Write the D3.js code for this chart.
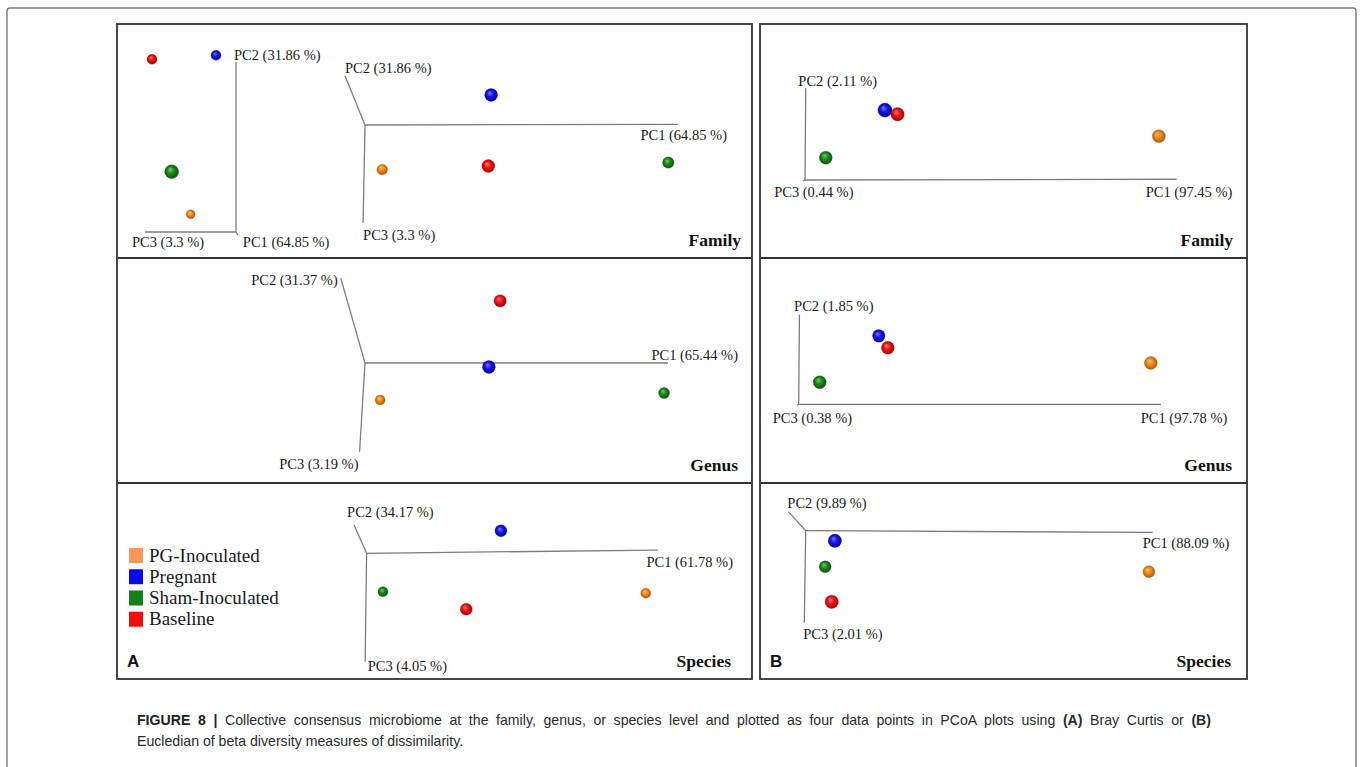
<!DOCTYPE html>
<html>
<head>
<meta charset="utf-8">
<script src="https://cdn.jsdelivr.net/npm/d3@7"></script>
<style>
  html, body { margin: 0; padding: 0; background: #fff; }
  svg { display: block; }
</style>
</head>
<body>
<svg id="fig" width="1360" height="767"></svg>
<script>
// ---- data -------------------------------------------------------------
const groups = ["PG-Inoculated", "Pregnant", "Sham-Inoculated", "Baseline"];
const levels = ["Family", "Genus", "Species"];

// Axis titles (PC1, PC2, PC3) per ordination
const braysFamilyAxes  = ["PC1 (64.85 %)", "PC2 (31.86 %)", "PC3 (3.3 %)"];
const braysGenusAxes   = ["PC1 (65.44 %)", "PC2 (31.37 %)", "PC3 (3.19 %)"];
const braysSpeciesAxes = ["PC1 (61.78 %)", "PC2 (34.17 %)", "PC3 (4.05 %)"];
const euclFamilyAxes   = ["PC1 (97.45 %)", "PC2 (2.11 %)", "PC3 (0.44 %)"];
const euclGenusAxes    = ["PC1 (97.78 %)", "PC2 (1.85 %)", "PC3 (0.38 %)"];
const euclSpeciesAxes  = ["PC1 (88.09 %)", "PC2 (9.89 %)", "PC3 (2.01 %)"];

// Projected axis tips [x, y] for PC1, PC2, PC3 (units of view length)
const braysFamilySideTips  = [[0.020, -0.033], [0.000, 1.868], [-1.000, 0.000]];
const braysFamilyFrontTips = [[1.000, 0.002], [-0.064, 0.157], [-0.006, -0.313]];
const braysGenusTips       = [[1.000, 0.000], [-0.080, 0.280], [-0.018, -0.293]];
const braysSpeciesTips     = [[1.000, 0.011], [-0.043, 0.097], [-0.005, -0.372]];
const euclFamilyTips       = [[1.000, 0.002], [0.002, 0.247], [-0.005, -0.003]];
const euclGenusTips        = [[1.000, 0.000], [0.002, 0.248], [-0.005, -0.003]];
const euclSpeciesTips      = [[1.000, -0.005], [-0.050, 0.055], [-0.004, -0.265]];

// Projected sample coordinates [x, y, depth] in group order
const braysFamilySide  = [[-0.498, 0.195, 0.14], [-0.220, 1.942, 0.29], [-0.707, 0.663, 0.86], [-0.923, 1.898, 0.29]];
const braysFamilyFront = [[0.055, -0.142, 0.37], [0.403, 0.096, 0.71], [0.969, -0.120, 0.49], [0.394, -0.131, 0.71]];
const braysGenus       = [[0.050, -0.122, 0.29], [0.409, -0.013, 0.71], [0.987, -0.099, 0.43], [0.446, 0.205, 0.62]];
const braysSpecies     = [[0.958, -0.137, 0.29], [0.461, 0.077, 0.57], [0.056, -0.132, 0.29], [0.342, -0.192, 0.57]];
const euclFamily       = [[0.952, 0.118, 0.71], [0.215, 0.188, 0.86], [0.056, 0.060, 0.71], [0.249, 0.177, 0.77]];
const euclGenus        = [[0.972, 0.114, 0.71], [0.221, 0.189, 0.66], [0.058, 0.061, 0.71], [0.246, 0.156, 0.71]];
const euclSpecies      = [[0.989, -0.118, 0.57], [0.084, -0.029, 0.77], [0.056, -0.104, 0.57], [0.075, -0.205, 0.77]];

// ---- styling ----------------------------------------------------------
const sphereColors = [
  { base: "#f08a1c", light: "#ffc77a", dark: "#a85200" },
  { base: "#1616ee", light: "#7a7aff", dark: "#00008c" },
  { base: "#1c8a1c", light: "#6fd06f", dark: "#064d06" },
  { base: "#ee1414", light: "#ff8080", dark: "#9a0000" }
];
const legendColors = ["#f7995a", "#0a0af2", "#15801a", "#f20d0d"];
const serif = "'Liberation Serif', 'Times New Roman', serif";
const sans = "'Liberation Sans', Arial, sans-serif";
const radius = d3.scaleLinear().domain([0, 1]).range([4, 7.5]);

const svg = d3.select("#fig");
const defs = svg.append("defs");
sphereColors.forEach((c, i) => {
  const g = defs.append("radialGradient")
    .attr("id", "ball" + i)
    .attr("cx", "50%").attr("cy", "50%").attr("r", "55%")
    .attr("fx", "38%").attr("fy", "32%");
  g.append("stop").attr("offset", "0%").attr("stop-color", c.light);
  g.append("stop").attr("offset", "45%").attr("stop-color", c.base);
  g.append("stop").attr("offset", "100%").attr("stop-color", c.dark);
});

// ---- frames -----------------------------------------------------------
svg.append("rect")
  .attr("x", 7).attr("y", 8).attr("width", 1349).attr("height", 800)
  .attr("rx", 3)
  .attr("fill", "none").attr("stroke", "#7a7a7a").attr("stroke-width", 1.4);

const panels = [
  { x: 117, w: 635, letter: "A", titleInset: [11, 14, 21] },
  { x: 760, w: 487, letter: "B", titleInset: [14, 15, 16] }
];
const rowEdges = [24, 258, 483, 679];

panels.forEach(p => {
  svg.append("rect")
    .attr("x", p.x).attr("y", rowEdges[0])
    .attr("width", p.w).attr("height", rowEdges[3] - rowEdges[0])
    .attr("fill", "none").attr("stroke", "#333").attr("stroke-width", 1.8);
  [rowEdges[1], rowEdges[2]].forEach(y => {
    svg.append("line")
      .attr("x1", p.x).attr("x2", p.x + p.w)
      .attr("y1", y).attr("y2", y)
      .attr("stroke", "#333").attr("stroke-width", 1.8);
  });
  levels.forEach((lv, i) => {
    svg.append("text")
      .attr("x", p.x + p.w - p.titleInset[i])
      .attr("y", rowEdges[i + 1] - 12.5)
      .attr("text-anchor", "end")
      .attr("font-family", serif).attr("font-weight", "bold")
      .attr("font-size", 17.5).attr("fill", "#111")
      .text(lv);
  });
  svg.append("text")
    .attr("x", p.x + 10).attr("y", rowEdges[3] - 12)
    .attr("font-family", sans).attr("font-weight", "bold")
    .attr("font-size", 17).attr("fill", "#111")
    .text(p.letter);
});

// ---- ordination views -------------------------------------------------
// origin: pixel position of the axis origin, len: pixels per unit
// lab: offsets [dx, dy, anchor] of each axis title from its tip
const views = [
  { origin: [236, 232], len: 91, tips: braysFamilySideTips, pts: braysFamilySide, names: braysFamilyAxes,
    lab: [[5, 12, "start"], [-2, -2, "start"], [-13, 15, "start"]] },
  { origin: [365, 125], len: 313, tips: braysFamilyFrontTips, pts: braysFamilyFront, names: braysFamilyAxes,
    lab: [[49, 16, "end"], [0, -3, "start"], [0, 17, "start"]] },
  { origin: [365, 363], len: 303, tips: braysGenusTips, pts: braysGenus, names: braysGenusAxes,
    lab: [[70, -3, "end"], [-3, 7, "end"], [-1, 17, "end"]] },
  { origin: [366.6, 553.3], len: 291.4, tips: braysSpeciesTips, pts: braysSpecies, names: braysSpeciesAxes,
    lab: [[75, 17, "end"], [-7, -8, "start"], [2.5, 9, "start"]] },
  { origin: [805, 180], len: 371.7, tips: euclFamilyTips, pts: euclFamily, names: euclFamilyAxes,
    lab: [[-31, 17.4, "start"], [-7.4, -2.6, "start"], [-29, 15.7, "start"]] },
  { origin: [798.7, 404.3], len: 362.3, tips: euclGenusTips, pts: euclGenus, names: euclGenusAxes,
    lab: [[-20.3, 19, "start"], [-5.3, -3.3, "start"], [-24.2, 18, "start"]] },
  { origin: [805.7, 530.7], len: 347, tips: euclSpeciesTips, pts: euclSpecies, names: euclSpeciesAxes,
    lab: [[-10, 15.4, "start"], [-1, -3.4, "start"], [-1, 16.6, "start"]] }
];

views.forEach(v => {
  const x = d3.scaleLinear().domain([0, 1]).range([v.origin[0], v.origin[0] + v.len]);
  const y = d3.scaleLinear().domain([0, 1]).range([v.origin[1], v.origin[1] - v.len]);
  const g = svg.append("g");

  g.selectAll("line.axis").data(v.tips).join("line")
    .attr("class", "axis")
    .attr("x1", x(0)).attr("y1", y(0))
    .attr("x2", d => x(d[0])).attr("y2", d => y(d[1]))
    .attr("stroke", "#7d7d7d").attr("stroke-width", 1.3);

  g.selectAll("text.axis").data(v.tips).join("text")
    .attr("class", "axis")
    .attr("x", (d, i) => x(d[0]) + v.lab[i][0])
    .attr("y", (d, i) => y(d[1]) + v.lab[i][1])
    .attr("text-anchor", (d, i) => v.lab[i][2])
    .attr("font-family", serif).attr("font-size", 14.5).attr("fill", "#1a1a1a")
    .text((d, i) => v.names[i]);

  g.selectAll("circle").data(v.pts).join("circle")
    .attr("cx", d => x(d[0])).attr("cy", d => y(d[1]))
    .attr("r", d => radius(d[2]))
    .attr("fill", (d, i) => `url(#ball${i})`)
    .attr("stroke", (d, i) => sphereColors[i].dark)
    .attr("stroke-opacity", 0.45).attr("stroke-width", 0.6);
});

// ---- legend -----------------------------------------------------------
const legend = svg.append("g").attr("transform", "translate(129,548)");
const legendRow = d3.scaleBand().domain(groups).range([0, 85]);
const lg = legend.selectAll("g").data(groups).join("g")
  .attr("transform", d => `translate(0,${legendRow(d)})`);
lg.append("rect").attr("width", 14).attr("height", 15)
  .attr("fill", (d, i) => legendColors[i]);
lg.append("text").attr("x", 20).attr("y", 13.5)
  .attr("font-family", serif).attr("font-size", 19).attr("fill", "#1a1a1a")
  .text(d => d);

// ---- caption ----------------------------------------------------------
// narrow sans caption; the first line is justified to the full measure
const squeeze = 0.93;
const cap = svg.append("g")
  .attr("transform", `translate(137,0) scale(${squeeze},1)`)
  .attr("font-family", sans).attr("font-size", 15.2).attr("fill", "#2b2b2b");
const line1 = cap.append("text").attr("x", 0).attr("y", 725);
line1.append("tspan").attr("font-weight", "bold").attr("fill", "#222").text("FIGURE 8 | ");
line1.append("tspan").text("Collective consensus microbiome at the family, genus, or species level and plotted as four data points in PCoA plots using ");
line1.append("tspan").attr("font-weight", "bold").text("(A)");
line1.append("tspan").text(" Bray Curtis or ");
line1.append("tspan").attr("font-weight", "bold").text("(B)");
cap.append("text").attr("x", 0).attr("y", 746)
  .text("Eucledian of beta diversity measures of dissimilarity.");

const measure = 1074 / squeeze;
const natural = line1.node().getComputedTextLength();
const gaps = line1.text().split(" ").length - 1;
line1.attr("word-spacing", Math.max(0, (measure - natural) / gaps));
</script>
</body>
</html>
